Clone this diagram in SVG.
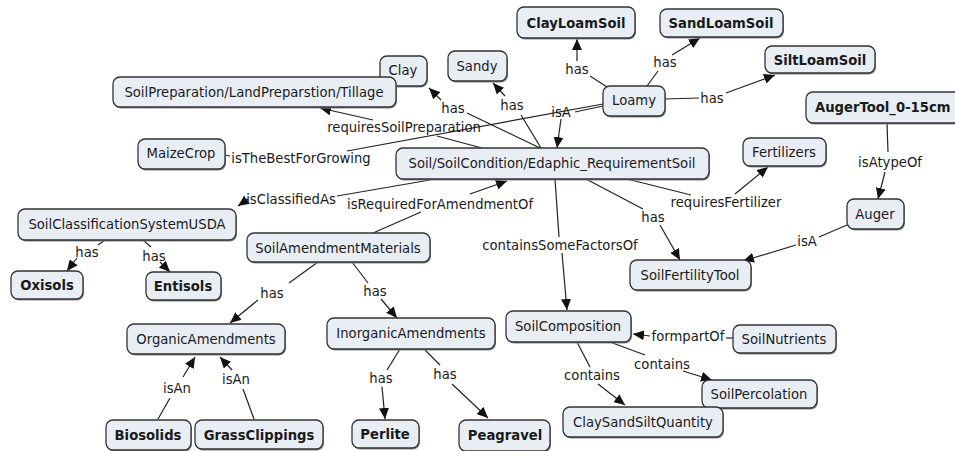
<svg xmlns="http://www.w3.org/2000/svg" width="955" height="451" viewBox="0 0 955 451">
<defs>
<marker id="arr" markerUnits="userSpaceOnUse" markerWidth="12" markerHeight="10" refX="11" refY="5" orient="auto"><path d="M0,0 L11,5 L0,10 z" fill="#111"/></marker>
<style>
.n rect.b{fill:#e9eef5;stroke:#333;stroke-width:1.3}
.n rect.s{fill:#888}
.n text{font-family:"DejaVu Sans",Verdana,sans-serif;font-size:13.2px;fill:#1a1a1a;text-anchor:middle}
.n text.bd{font-weight:bold}
#links line{stroke:#222;stroke-width:1.2}
#links line.a{marker-end:url(#arr)}
#links text{font-family:"DejaVu Sans",Verdana,sans-serif;font-size:13.2px;fill:#1a1a1a;text-anchor:middle}
</style>
</defs>
<rect width="955" height="451" fill="#fff"/>
<g id="links">
<line x1="607" y1="87" x2="590" y2="76"/><line class="a" x1="577" y1="61" x2="577" y2="39"/><text x="577" y="73.5">has</text>
<line x1="647" y1="86" x2="658" y2="71"/><line class="a" x1="672" y1="55" x2="700" y2="38"/><text x="665" y="66.5">has</text>
<line x1="665" y1="99" x2="699" y2="98"/><line class="a" x1="726" y1="93" x2="775" y2="75"/><text x="712" y="102.5">has</text>
<line x1="603" y1="106" x2="575" y2="112"/><line class="a" x1="561" y1="119" x2="557" y2="148"/><text x="561" y="116.5">isA</text>
<line x1="225" y1="155" x2="230" y2="156"/><line x1="347" y1="151" x2="603" y2="104"/><text x="301" y="162.5">isTheBestForGrowing</text>
<line x1="540" y1="148" x2="467" y2="113"/><line class="a" x1="441" y1="100" x2="429" y2="88"/><text x="453" y="112.5">has</text>
<line x1="541" y1="148" x2="521" y2="115"/><line class="a" x1="505" y1="96" x2="493" y2="83"/><text x="512" y="109.5">has</text>
<line x1="482" y1="148" x2="437" y2="136"/><line class="a" x1="373" y1="120" x2="320" y2="108"/><text x="404" y="131.5">requiresSoilPreparation</text>
<line x1="430" y1="180" x2="337" y2="196"/><line class="a" x1="248" y1="199" x2="238" y2="206"/><text x="291" y="203.5">isClassifiedAs</text>
<line x1="373" y1="233" x2="421" y2="212"/><line class="a" x1="470" y1="194" x2="507" y2="181"/><text x="440" y="208.5">isRequiredForAmendmentOf</text>
<line x1="555" y1="179" x2="559" y2="237"/><line class="a" x1="562" y1="253" x2="567" y2="310"/><text x="560" y="249.5">containsSomeFactorsOf</text>
<line x1="586" y1="179" x2="643" y2="209"/><line class="a" x1="660" y1="225" x2="680" y2="260"/><text x="653" y="221.5">has</text>
<line x1="627" y1="179" x2="691" y2="195"/><line class="a" x1="735" y1="194" x2="768" y2="167"/><text x="726" y="206.5">requiresFertilizer</text>
<line x1="887" y1="123" x2="888" y2="152"/><line class="a" x1="885" y1="172" x2="878" y2="199"/><text x="890" y="166.5">isAtypeOf</text>
<line x1="847" y1="225" x2="819" y2="237"/><line class="a" x1="796" y1="245" x2="743" y2="261"/><text x="807" y="245.5">isA</text>
<line x1="105" y1="240" x2="98" y2="245"/><line class="a" x1="77" y1="258" x2="67" y2="271"/><text x="87" y="256.5">has</text>
<line x1="143" y1="240" x2="151" y2="247"/><line class="a" x1="160" y1="262" x2="170" y2="272"/><text x="154" y="260.5">has</text>
<line x1="318" y1="262" x2="289" y2="283"/><line class="a" x1="258" y1="300" x2="230" y2="323"/><text x="272" y="297.5">has</text>
<line x1="352" y1="262" x2="368" y2="283"/><line class="a" x1="381" y1="299" x2="397" y2="318"/><text x="375" y="295.5">has</text>
<line x1="158" y1="419" x2="170" y2="398"/><line class="a" x1="183" y1="377" x2="195" y2="357"/><text x="177" y="392.5">isAn</text>
<line x1="254" y1="419" x2="243" y2="389"/><line class="a" x1="232" y1="370" x2="220" y2="357"/><text x="236" y="383.5">isAn</text>
<line x1="400" y1="349" x2="387" y2="370"/><line class="a" x1="382" y1="387" x2="385" y2="419"/><text x="381" y="382.5">has</text>
<line x1="425" y1="350" x2="440" y2="365"/><line class="a" x1="452" y1="384" x2="488" y2="418"/><text x="445" y="378.5">has</text>
<line x1="733" y1="338" x2="726" y2="338"/><line class="a" x1="650" y1="336" x2="633" y2="334"/><text x="688" y="340.5">formpartOf</text>
<line x1="610" y1="342" x2="645" y2="355"/><line class="a" x1="683" y1="371" x2="712" y2="380"/><text x="662" y="368.5">contains</text>
<line x1="577" y1="342" x2="590" y2="367"/><line class="a" x1="598" y1="384" x2="625" y2="405"/><text x="592" y="379.5">contains</text>
</g>
<g id="ClayLoamSoil" class="n"><rect class="s" x="518" y="8.5" width="118" height="31" rx="7"/><rect class="b" x="517" y="7" width="118" height="31" rx="7"/><text class="bd" x="576" y="27.5">ClayLoamSoil</text></g>
<g id="SandLoamSoil" class="n"><rect class="s" x="661" y="10.5" width="123" height="28" rx="7"/><rect class="b" x="660" y="9" width="123" height="28" rx="7"/><text class="bd" x="721" y="27.5">SandLoamSoil</text></g>
<g id="SiltLoamSoil" class="n"><rect class="s" x="766" y="47.5" width="110" height="27" rx="7"/><rect class="b" x="765" y="46" width="110" height="27" rx="7"/><text class="bd" x="820" y="64.5">SiltLoamSoil</text></g>
<g id="Loamy" class="n"><rect class="s" x="604" y="87.5" width="62" height="30" rx="7"/><rect class="b" x="603" y="86" width="62" height="30" rx="7"/><text x="634" y="104.5">Loamy</text></g>
<g id="AugerTool" class="n"><rect class="s" x="807" y="93.5" width="160" height="31" rx="7"/><rect class="b" x="806" y="92" width="160" height="31" rx="7"/><text class="bd" x="815" y="112" style="text-anchor:start">AugerTool_0-15cm</text></g>
<g id="Clay" class="n"><rect class="s" x="381" y="57.5" width="47" height="30" rx="7"/><rect class="b" x="380" y="56" width="47" height="30" rx="7"/><text x="403" y="74.5">Clay</text></g>
<g id="Sandy" class="n"><rect class="s" x="449" y="52.5" width="59" height="30" rx="7"/><rect class="b" x="448" y="51" width="59" height="30" rx="7"/><text x="477" y="70.5">Sandy</text></g>
<g id="SoilPreparation" class="n"><rect class="s" x="114" y="78.5" width="283" height="30" rx="7"/><rect class="b" x="113" y="77" width="283" height="30" rx="7"/><text x="254" y="96.5">SoilPreparation/LandPreparstion/Tillage</text></g>
<g id="MaizeCrop" class="n"><rect class="s" x="139" y="140.5" width="87" height="30" rx="7"/><rect class="b" x="138" y="139" width="87" height="30" rx="7"/><text x="181" y="157.5">MaizeCrop</text></g>
<g id="Soil" class="n"><rect class="s" x="397" y="149.5" width="313" height="31" rx="7"/><rect class="b" x="396" y="148" width="313" height="31" rx="7"/><text x="552" y="168">Soil/SoilCondition/Edaphic_RequirementSoil</text></g>
<g id="Fertilizers" class="n"><rect class="s" x="744" y="139.5" width="83" height="28" rx="7"/><rect class="b" x="743" y="138" width="83" height="28" rx="7"/><text x="784" y="156.5">Fertilizers</text></g>
<g id="SoilClassificationSystemUSDA" class="n"><rect class="s" x="19" y="210.5" width="218" height="31" rx="7"/><rect class="b" x="18" y="209" width="218" height="31" rx="7"/><text x="127" y="229">SoilClassificationSystemUSDA</text></g>
<g id="SoilAmendmentMaterials" class="n"><rect class="s" x="248" y="234.5" width="183" height="29" rx="7"/><rect class="b" x="247" y="233" width="183" height="29" rx="7"/><text x="338" y="252.5">SoilAmendmentMaterials</text></g>
<g id="Auger" class="n"><rect class="s" x="848" y="200.5" width="57" height="30" rx="7"/><rect class="b" x="847" y="199" width="57" height="30" rx="7"/><text x="875" y="218.5">Auger</text></g>
<g id="SoilFertilityTool" class="n"><rect class="s" x="631" y="261.5" width="121" height="30" rx="7"/><rect class="b" x="630" y="260" width="121" height="30" rx="7"/><text x="690" y="279.5">SoilFertilityTool</text></g>
<g id="Oxisols" class="n"><rect class="s" x="12" y="272.5" width="72" height="28" rx="7"/><rect class="b" x="11" y="271" width="72" height="28" rx="7"/><text class="bd" x="47" y="290">Oxisols</text></g>
<g id="Entisols" class="n"><rect class="s" x="147" y="273.5" width="75" height="28" rx="7"/><rect class="b" x="146" y="272" width="75" height="28" rx="7"/><text class="bd" x="183" y="290.5">Entisols</text></g>
<g id="OrganicAmendments" class="n"><rect class="s" x="128" y="325.5" width="158" height="30" rx="7"/><rect class="b" x="127" y="324" width="158" height="30" rx="7"/><text x="206" y="343.5">OrganicAmendments</text></g>
<g id="InorganicAmendments" class="n"><rect class="s" x="328" y="319.5" width="168" height="31" rx="7"/><rect class="b" x="327" y="318" width="168" height="31" rx="7"/><text x="411" y="338">InorganicAmendments</text></g>
<g id="SoilComposition" class="n"><rect class="s" x="507" y="312.5" width="125" height="31" rx="7"/><rect class="b" x="506" y="311" width="125" height="31" rx="7"/><text x="568" y="331">SoilComposition</text></g>
<g id="SoilNutrients" class="n"><rect class="s" x="734" y="326.5" width="103" height="28" rx="7"/><rect class="b" x="733" y="325" width="103" height="28" rx="7"/><text x="784" y="343.5">SoilNutrients</text></g>
<g id="SoilPercolation" class="n"><rect class="s" x="703" y="381.5" width="115" height="28" rx="7"/><rect class="b" x="702" y="380" width="115" height="28" rx="7"/><text x="759" y="398.5">SoilPercolation</text></g>
<g id="ClaySandSiltQuantity" class="n"><rect class="s" x="564" y="408.5" width="160" height="30" rx="7"/><rect class="b" x="563" y="407" width="160" height="30" rx="7"/><text x="643" y="426.5">ClaySandSiltQuantity</text></g>
<g id="Biosolids" class="n"><rect class="s" x="107" y="421.5" width="85" height="30" rx="7"/><rect class="b" x="106" y="420" width="85" height="30" rx="7"/><text class="bd" x="148" y="439.5">Biosolids</text></g>
<g id="GrassClippings" class="n"><rect class="s" x="196" y="421.5" width="128" height="29" rx="7"/><rect class="b" x="195" y="420" width="128" height="29" rx="7"/><text class="bd" x="259" y="439.5">GrassClippings</text></g>
<g id="Perlite" class="n"><rect class="s" x="353" y="421.5" width="67" height="28" rx="7"/><rect class="b" x="352" y="420" width="67" height="28" rx="7"/><text class="bd" x="385" y="438.5">Perlite</text></g>
<g id="Peagravel" class="n"><rect class="s" x="460" y="421.5" width="91" height="31" rx="7"/><rect class="b" x="459" y="420" width="91" height="31" rx="7"/><text class="bd" x="505" y="439.5">Peagravel</text></g>
</svg>
